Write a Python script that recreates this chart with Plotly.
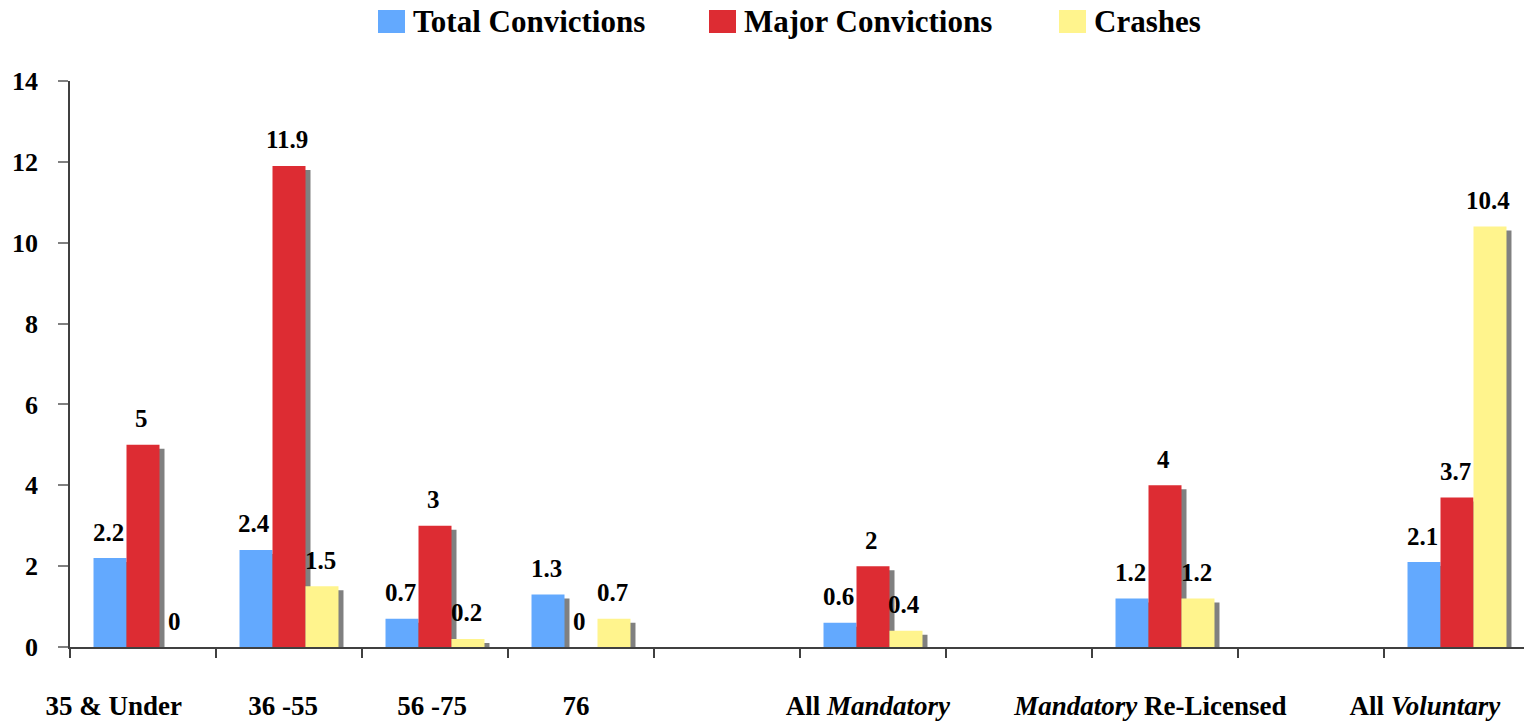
import plotly.graph_objects as go

# ---------------- data ----------------
categories = ["35 & Under", "36 -55", "56 -75", "76", "", "All <i>Mandatory</i>", "",
              "<i>Mandatory</i> Re-Licensed", "", "All <i>Voluntary</i>"]
total_convictions = [2.2, 2.4, 0.7, 1.3, None, 0.6, None, 1.2, None, 2.1]
major_convictions = [5, 11.9, 3, 0, None, 2, None, 4, None, 3.7]
crashes = [0, 1.5, 0.2, 0.7, None, 0.4, None, 1.2, None, 10.4]
series_names = ["Total Convictions", "Major Convictions", "Crashes"]
y_ticks = [0, 2, 4, 6, 8, 10, 12, 14]

# ---------------- style ----------------
colors = ["#63A9FE", "#DD2C33", "#FFF48D"]
shadow_color = "#808080"
FONT = "Liberation Serif, Times New Roman, serif"
W, H = 1524, 725
L, T, B, R = 70, 81, 78, 0
PX_PER_X = 146.0
plot_w = W - L - R
plot_h = H - T - B
Y_MAX = 14
PX_PER_Y = plot_h / Y_MAX
label_shift = [-0.2, -0.04, -0.02, -0.035, 0, -0.035, 0, -0.1, 0, -0.22]

BAR_W = 0.226
offsets = [-1.5 * BAR_W, -0.5 * BAR_W, 0.5 * BAR_W]
DX = 5 / PX_PER_X
DY = 4 / PX_PER_Y

series_values = [total_convictions, major_convictions, crashes]
xs = list(range(len(categories)))

fig = go.Figure()

# shadows first
for vals, off in zip(series_values, offsets):
    sv = [None if v is None else max(0.0, v - DY) for v in vals]
    fig.add_trace(go.Bar(x=xs, y=sv, base=0, offset=off + DX, width=BAR_W,
                         marker=dict(color=shadow_color, line=dict(width=0)),
                         showlegend=False, hoverinfo="skip"))

# bars
for name, vals, off, col in zip(series_names, series_values, offsets, colors):
    fig.add_trace(go.Bar(x=xs, y=vals, offset=off, width=BAR_W, name=name,
                         marker=dict(color=col, line=dict(width=0)),
                         showlegend=False))

annotations = []
# data labels
for vals, off in zip(series_values, offsets):
    for i, v in enumerate(vals):
        if v is None:
            continue
        annotations.append(dict(x=i + off + BAR_W / 2, y=v, xref="x", yref="y",
                                text=f"{v:g}", showarrow=False, yanchor="middle",
                                xanchor="center", yshift=26, xshift=-2,
                                font=dict(family=FONT, size=25, color="black", weight="bold")))

# manual legend (pixel positions)
def px_x(p):
    return (p - L) / plot_w

def px_y(p):
    return (H - B - p) / plot_h

shapes = []
legend_x = [378, 709, 1059]
for name, col, lx in zip(series_names, colors, legend_x):
    shapes.append(dict(type="rect", xref="paper", yref="paper",
                       x0=px_x(lx), x1=px_x(lx + 27), y0=px_y(33), y1=px_y(10),
                       fillcolor=col, line=dict(width=0)))
    annotations.append(dict(x=px_x(lx + 34), y=px_y(22), xref="paper", yref="paper",
                            text=name, showarrow=False, xanchor="left", yanchor="middle",
                            borderpad=0,
                            font=dict(family=FONT, size=31, color="black", weight="bold")))

tick_vals = [i + s for i, (c, s) in enumerate(zip(categories, label_shift)) if c]
tick_text = [c for c in categories if c]

fig.update_layout(
    width=W, height=H,
    margin=dict(l=L, r=R, t=T, b=B, pad=0),
    paper_bgcolor="white", plot_bgcolor="white",
    barmode="overlay",
    showlegend=False,
    shapes=shapes,
    annotations=annotations,
    font=dict(family=FONT, color="black"),
)
fig.update_xaxes(
    range=[-0.5, -0.5 + plot_w / PX_PER_X],
    showgrid=False, zeroline=False,
    showline=True, linecolor="#404040", linewidth=1.5,
    tickmode="array", tickvals=tick_vals, ticktext=tick_text,
    ticks="", ticklabelstandoff=34,
    tickfont=dict(family=FONT, size=27, color="black", weight="bold"),
    minor=dict(tickmode="array", tickvals=[i - 0.5 for i in range(len(categories) + 1)],
               ticks="outside", ticklen=9, tickcolor="#404040", tickwidth=1.5, showgrid=False),
)
fig.update_yaxes(
    range=[0, Y_MAX],
    tickmode="array", tickvals=y_ticks,
    showgrid=False, zeroline=False,
    showline=True, linecolor="#404040", linewidth=1.5,
    ticks="outside", ticklen=10, tickcolor="#808080", tickwidth=1.5,
    ticklabelstandoff=15,
    tickfont=dict(family=FONT, size=26, color="black", weight="bold"),
)

fig.write_html("out.html", config={"displayModeBar": False},
               post_script="document.body.style.margin='0';document.body.style.overflow='hidden';")
